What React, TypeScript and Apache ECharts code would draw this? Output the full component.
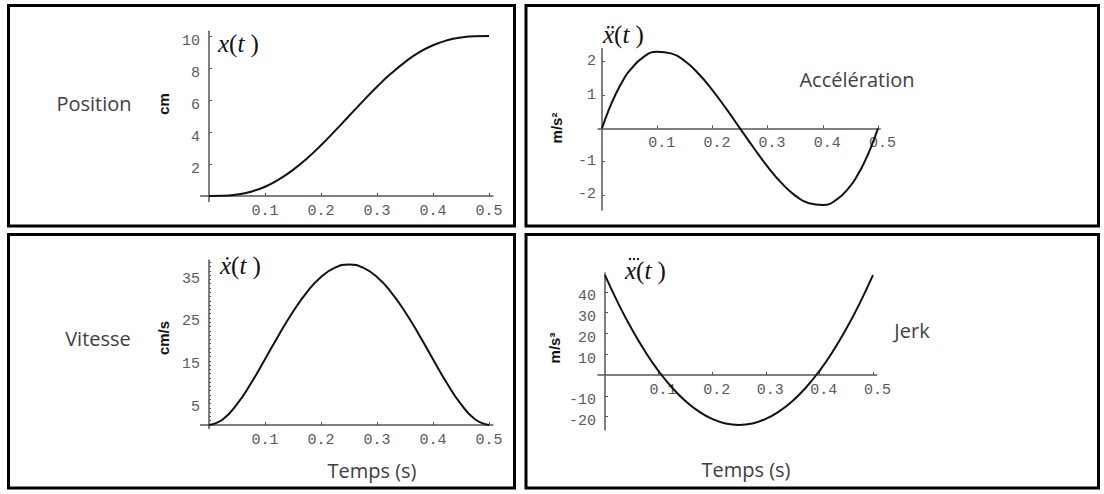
import React, { useEffect, useRef } from "react";
import * as echarts from "echarts";

// time samples (s)
const time = [0, 0.025, 0.05, 0.075, 0.1, 0.125, 0.15, 0.175, 0.2, 0.225, 0.25, 0.275, 0.3, 0.325, 0.35, 0.375, 0.4, 0.425, 0.45, 0.475, 0.5];
// position (cm)
const position = [0, 0.01, 0.09, 0.27, 0.58, 1.04, 1.63, 2.35, 3.17, 4.07, 5.0, 5.93, 6.83, 7.65, 8.37, 8.97, 9.42, 9.73, 9.91, 9.99, 10.0];
// velocity (cm/s)
const velocity = [0, 1.35, 4.86, 9.75, 15.36, 21.09, 26.46, 31.05, 34.56, 36.75, 37.5, 36.75, 34.56, 31.05, 26.46, 21.09, 15.36, 9.75, 4.86, 1.35, 0];
// acceleration (m/s^2), sampled a little more finely near the ends
const accTime = [0, 0.0125, 0.025, 0.0375, 0.05, 0.075, 0.1, 0.125, 0.15, 0.175, 0.2, 0.225, 0.25, 0.275, 0.3, 0.325, 0.35, 0.375, 0.4, 0.425, 0.45, 0.4625, 0.475, 0.4875, 0.5];
const acceleration = [0, 0.56, 1.03, 1.42, 1.73, 2.14, 2.3, 2.25, 2.02, 1.64, 1.15, 0.59, 0, -0.59, -1.15, -1.64, -2.02, -2.25, -2.3, -2.14, -1.73, -1.42, -1.03, -0.56, 0];
// jerk (m/s^3)
const jerk = [48, 34.3, 22.1, 11.3, 1.9, -6, -12.5, -17.5, -21.1, -23.3, -24, -23.3, -21.1, -17.5, -12.5, -6, 1.9, 11.3, 22.1, 34.3, 48];

// tick labels
const timeTicks = [0.1, 0.2, 0.3, 0.4, 0.5];
const posTicks = [2, 4, 6, 8, 10];
const velTicks = [5, 15, 25, 35];
const velMinorTicks = Array.from({ length: 38 }, (_, i) => i + 1);
const accTicks = [-2, -1, 1, 2];
const jerkTicks = [-20, -10, 10, 20, 30, 40];

const AXIS = "#555";
const LABEL = "#5a5a5a";
const TEXT = "#404040";
const MONO = "'Liberation Mono', 'DejaVu Sans Mono', monospace";
const SANS = "'Open Sans', 'Liberation Sans', sans-serif";
const SERIF = "'Liberation Serif', 'DejaVu Serif', serif";
const TICK_FONT = 15;

function xAxisDef(gridIndex: number, min: number, max: number, offset: number, shift: boolean) {
  return {
    type: "value",
    gridIndex,
    min,
    max,
    offset,
    splitLine: { show: false },
    axisLine: { show: true, onZero: false, lineStyle: { color: AXIS, width: 1.5 } },
    axisTick: { show: true, inside: true, length: 3, customValues: timeTicks, lineStyle: { color: AXIS } },
    axisLabel: {
      customValues: timeTicks,
      margin: 8,
      color: LABEL,
      fontFamily: MONO,
      fontSize: TICK_FONT,
      formatter: (v: number) => (shift ? " " : "") + v.toFixed(1),
    },
  };
}

function yAxisDef(
  gridIndex: number,
  min: number,
  max: number,
  offset: number,
  ticks: number[],
  offY: number,
  margin: number,
  minor?: number[]
) {
  const label: any = {
    customValues: ticks,
    margin,
    color: LABEL,
    fontFamily: MONO,
    fontSize: TICK_FONT,
  };
  if (offY > 0) {
    label.verticalAlign = "top";
    label.lineHeight = offY * 2;
  }
  return {
    type: "value",
    gridIndex,
    min,
    max,
    offset,
    splitLine: { show: false },
    axisLine: { show: true, onZero: false, lineStyle: { color: AXIS, width: 1.5 } },
    axisTick: { show: true, inside: true, length: minor ? 2 : 3, customValues: minor || ticks, lineStyle: { color: AXIS } },
    axisLabel: label,
  };
}

function seriesDef(i: number, xs: number[], values: number[]) {
  return {
    type: "line",
    xAxisIndex: i,
    yAxisIndex: i,
    data: xs.map((t, k) => [t, values[k]]),
    showSymbol: false,
    smooth: true,
    clip: false,
    lineStyle: { color: "#111", width: 2 },
    z: 5,
  };
}

function plainText(text: string, x: number, y: number, size = 20) {
  return {
    type: "text",
    x,
    y,
    style: {
      text,
      fill: TEXT,
      fontFamily: SANS,
      fontSize: size,
      align: "center",
      verticalAlign: "middle",
      textAlign: "center",
      textVerticalAlign: "middle",
    },
  };
}

function unitText(text: string, x: number, y: number) {
  return {
    type: "text",
    x,
    y,
    rotation: Math.PI / 2,
    style: {
      text,
      fill: "#111",
      fontFamily: "'Liberation Sans', Arial, sans-serif",
      fontWeight: "bold",
      fontSize: 15,
      align: "center",
      verticalAlign: "middle",
      textAlign: "center",
      textVerticalAlign: "middle",
    },
  };
}

function mathText(sym: string, x: number, y: number) {
  return {
    type: "text",
    x,
    y,
    style: {
      text: `{i|${sym}}{p|(}{i|t}{p| )}`,
      fill: "#111",
      align: "left",
      verticalAlign: "middle",
      textAlign: "left",
      textVerticalAlign: "middle",
      rich: {
        i: { fontFamily: SERIF, fontStyle: "italic", fontSize: 25, fill: "#111" },
        p: { fontFamily: SERIF, fontSize: 25, fill: "#111" },
      },
    },
  };
}

function dot(cx: number, cy: number) {
  return {
    type: "circle",
    shape: { cx, cy, r: 1.2 },
    style: { fill: "#111" },
  };
}

function box(x: number, y: number, width: number, height: number) {
  return {
    type: "rect",
    shape: { x, y, width, height },
    style: { fill: "none", stroke: "#000", lineWidth: 3 },
    z: 1,
  };
}

export default function App() {
  const ref = useRef<HTMLDivElement>(null);
  useEffect(() => {
    if (!ref.current) return;
    const chart = echarts.init(ref.current, null, { renderer: "svg" });
    chart.setOption({
      animation: false,
      backgroundColor: "#fff",
      grid: [
        { left: 200.6, top: 31.2, width: 292.3, height: 170.4 },
        { left: 598.1, top: 48.4, width: 282.1, height: 161.5 },
        { left: 200.6, top: 260.2, width: 292.3, height: 168.2 },
        { left: 598, top: 273.1, width: 278.7, height: 156.8 },
      ],
      xAxis: [
        xAxisDef(0, -0.015, 0.507, -5.6, false),
        xAxisDef(1, -0.007, 0.504, -81.6, true),
        xAxisDef(2, -0.015, 0.507, -3.4, false),
        xAxisDef(3, -0.013, 0.507, -54.9, true),
      ],
      yAxis: [
        yAxisDef(0, -0.35, 10.3, -8.4, posTicks, 5, 9),
        yAxisDef(1, -2.45, 2.4, -3.9, accTicks, 0, 6),
        yAxisDef(2, -0.8, 38.5, -8.4, velTicks, 4, 9, velMinorTicks),
        yAxisDef(3, -26.4, 49, -7, jerkTicks, 5, 9),
      ],
      series: [
        seriesDef(0, time, position),
        seriesDef(1, accTime, acceleration),
        seriesDef(2, time, velocity),
        seriesDef(3, time, jerk),
      ],
      graphic: [
        box(8.5, 5.5, 506, 220.5),
        box(526, 5.5, 572.5, 220.5),
        box(8.5, 234.5, 506, 253.5),
        box(526, 234.5, 572.5, 253.5),
        plainText("Position", 94, 103),
        plainText("Vitesse", 98, 338),
        plainText("Accélération", 857, 79),
        plainText("Jerk", 912, 330),
        plainText("Temps (s)", 372, 470),
        plainText("Temps (s)", 746, 469),
        unitText("cm", 163, 104),
        unitText("cm/s", 163, 338),
        unitText("m/s²", 556, 128),
        unitText("m/s³", 554, 348),
        mathText("x", 218, 43),
        mathText("ẍ", 603, 34),
        mathText("ẋ", 220, 265),
        mathText("x", 625, 270),
        dot(630, 259),
        dot(634, 259),
        dot(638, 259),
      ],
    });
    return () => chart.dispose();
  }, []);
  return (
    <div
      ref={ref}
      style={{ position: "absolute", left: 0, top: 0, width: 1104, height: 494, background: "#fff" }}
    />
  );
}
